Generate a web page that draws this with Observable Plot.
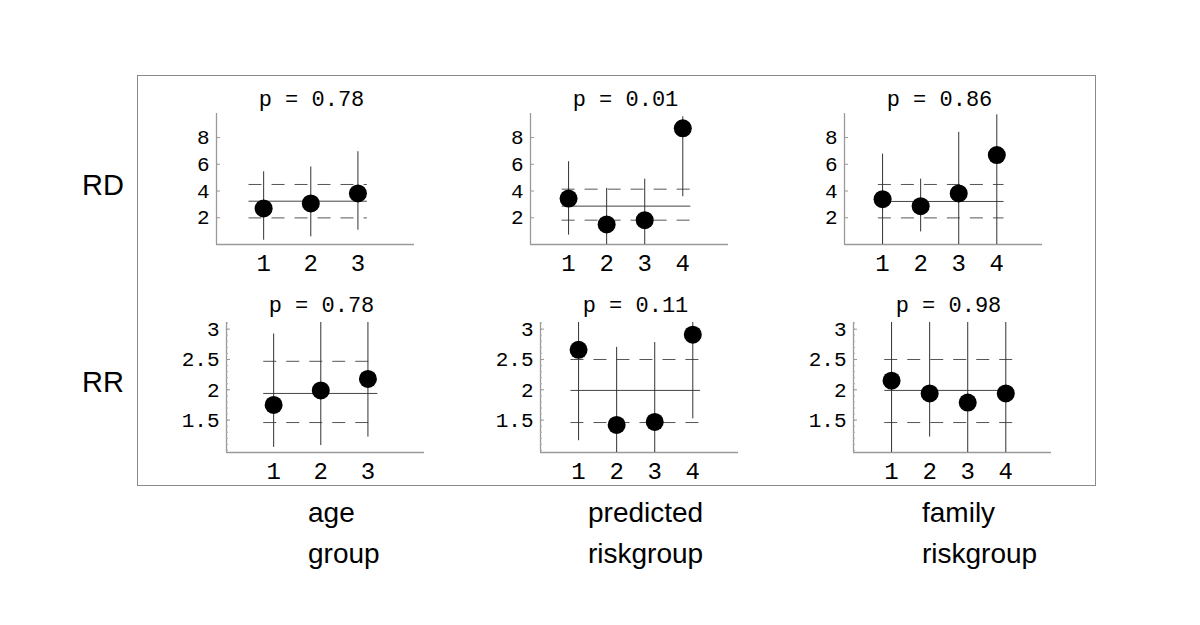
<!DOCTYPE html>
<html><head><meta charset="utf-8">
<script src="https://cdn.jsdelivr.net/npm/d3@7"></script>
<script src="https://cdn.jsdelivr.net/npm/@observablehq/plot@0.6"></script>
<style>
body{margin:0;background:#fff;}
#wrap{position:relative;width:1200px;height:625px;overflow:hidden;background:#fff;}
#box{position:absolute;left:137px;top:75px;width:959px;height:411px;border:1px solid #8a8a8a;box-sizing:border-box;}
.panel{position:absolute;}
#labels{position:absolute;left:0;top:0;}
</style></head>
<body><div id="wrap"><div id="box"></div></div>
<script>
// ---------- data ----------
const rowLabels = ["RD", "RR"];
const colLabels = [["age", "group"], ["predicted", "riskgroup"], ["family", "riskgroup"]];
const pTitles = ["p = 0.78", "p = 0.01", "p = 0.86", "p = 0.78", "p = 0.11", "p = 0.98"];

const rdTicks = [2, 4, 6, 8];
const rrTicks = [1.5, 2, 2.5, 3];
const rrMinor = d3.range(10, 32).map(d => d / 10);
const rdDomain = [0, 9.8];
const rrDomain = [0.966, 3.11];

// RD, age group
const rdAgeEst = [2.70, 3.07, 3.82];
const rdAgeLo  = [0.32, 0.57, 1.07];
const rdAgeHi  = [5.44, 5.80, 6.94];
const rdAgeRef = [3.24, 1.99, 4.49];   // pooled, lower, upper
const rdAgeSpan = [0.69, 3.20];
// RD, predicted riskgroup
const rdPredEst = [3.44, 1.50, 1.82, 8.69];
const rdPredLo  = [0.70, 0.00, 0.00, 3.57];
const rdPredHi  = [6.19, 4.20, 4.89, 9.56];
const rdPredRef = [2.87, 1.82, 4.14];
const rdPredSpan = [0.83, 4.21];
// RD, family riskgroup
const rdFamEst = [3.39, 2.87, 3.82, 6.69];
const rdFamLo  = [0.00, 0.94, 0.00, 0.00];
const rdFamHi  = [6.76, 4.89, 8.39, 9.70];
const rdFamRef = [3.22, 1.99, 4.49];
const rdFamSpan = [0.89, 4.19];
// RR, age group
const rrAgeEst = [1.75, 1.99, 2.18];
const rrAgeLo  = [1.05, 1.08, 1.22];
const rrAgeHi  = [2.92, 3.11, 3.11];
const rrAgeRef = [1.94, 1.46, 2.47];
const rrAgeSpan = [0.79, 3.21];
// RR, predicted riskgroup
const rrPredEst = [2.66, 1.42, 1.47, 2.91];
const rrPredLo  = [1.16, 0.966, 0.966, 1.52];
const rrPredHi  = [3.11, 2.70, 2.78, 3.11];
const rrPredRef = [1.99, 1.46, 2.50];
const rrPredSpan = [0.80, 4.20];
// RR, family riskgroup
const rrFamEst = [2.15, 1.94, 1.79, 1.94];
const rrFamLo  = [0.966, 1.22, 0.966, 0.966];
const rrFamHi  = [3.11, 3.11, 3.11, 3.11];
const rrFamRef = [1.99, 1.46, 2.50];
const rrFamSpan = [0.82, 4.20];

// ---------- layout ----------
const mono = "'Liberation Mono','Courier New',monospace";
const sans = "'Liberation Sans',Arial,sans-serif";
const M = {left: 60, right: 12, top: 44, bottom: 40};
const plotW = 198;
const xPad = 1.2;
const fmt = d => `${d}`;

function panel(cfg) {
  const n = cfg.est.length;
  const groups = d3.range(1, n + 1);
  const rows = groups.map((g, i) => ({g, est: cfg.est[i], lo: cfg.lo[i], hi: cfg.hi[i]}));
  const [y0, y1] = cfg.domain;
  const xMax = n + xPad;
  const marks = [
    Plot.ruleY([y0], {x1: 0, x2: xMax, stroke: "#9a9a9a", strokeWidth: 1.3}),
    Plot.ruleX([0], {y1: y0, y2: y1, stroke: "#9a9a9a", strokeWidth: 1.3}),
  ];
  if (cfg.minor) marks.push(Plot.axisY({ticks: cfg.minor, anchor: "left", tickSize: 2, dx: 2, tickFormat: () => "", stroke: "#aaa"}));
  marks.push(
    Plot.axisY({ticks: cfg.ticks, anchor: "left", tickSize: 4, dx: 4, tickFormat: () => "", stroke: "#999"}),
    Plot.axisY({ticks: cfg.ticks, anchor: "left", tickSize: 0, tickPadding: 7, tickFormat: fmt, label: null, fontFamily: mono, fontSize: 21}),
    Plot.axisX({ticks: groups, anchor: "bottom", tickSize: 0, tickPadding: 9, tickFormat: fmt, label: null, fontFamily: mono, fontSize: 24}),
    Plot.ruleY([cfg.ref[1], cfg.ref[2]], {x1: cfg.span[0], x2: cfg.span[1], stroke: "#555", strokeDasharray: "13,10"}),
    Plot.ruleY([cfg.ref[0]], {x1: cfg.span[0], x2: cfg.span[1], stroke: "#444"}),
    Plot.ruleX(rows, {x: "g", y1: "lo", y2: "hi", stroke: "#333"}),
    Plot.dot(rows, {x: "g", y: "est", r: 9, fill: "#000", stroke: "none"}),
    Plot.text([cfg.title], {frameAnchor: "top", dx: -4, dy: -cfg.titleGap, lineAnchor: "bottom", fontFamily: mono, fontSize: 22})
  );
  const chart = Plot.plot({
    width: M.left + plotW + M.right,
    height: M.top + cfg.h + M.bottom,
    marginLeft: M.left, marginRight: M.right, marginTop: M.top, marginBottom: M.bottom,
    x: {domain: [0, xMax]},
    y: {domain: cfg.domain},
    style: {background: "transparent", overflow: "visible"},
    marks
  });
  const div = document.createElement("div");
  div.className = "panel";
  div.style.left = (cfg.left - M.left) + "px";
  div.style.top = (cfg.top - M.top) + "px";
  div.appendChild(chart);
  document.getElementById("wrap").appendChild(div);
}

const rdRow = {domain: rdDomain, ticks: rdTicks, top: 113.3, h: 131, titleGap: 8};
const rrRow = {domain: rrDomain, ticks: rrTicks, minor: rrMinor, top: 321.7, h: 130, titleGap: 11};

panel({...rdRow, left: 216,   title: pTitles[0], est: rdAgeEst,  lo: rdAgeLo,  hi: rdAgeHi,  ref: rdAgeRef,  span: rdAgeSpan});
panel({...rdRow, left: 530,   title: pTitles[1], est: rdPredEst, lo: rdPredLo, hi: rdPredHi, ref: rdPredRef, span: rdPredSpan});
panel({...rdRow, left: 844.4, title: pTitles[2], est: rdFamEst,  lo: rdFamLo,  hi: rdFamHi,  ref: rdFamRef,  span: rdFamSpan});
panel({...rrRow, left: 225.7, title: pTitles[3], est: rrAgeEst,  lo: rrAgeLo,  hi: rrAgeHi,  ref: rrAgeRef,  span: rrAgeSpan});
panel({...rrRow, left: 539.7, title: pTitles[4], est: rrPredEst, lo: rrPredLo, hi: rrPredHi, ref: rrPredRef, span: rrPredSpan});
panel({...rrRow, left: 853.4, title: pTitles[5], est: rrFamEst,  lo: rrFamLo,  hi: rrFamHi,  ref: rrFamRef,  span: rrFamSpan});

// ---------- row / column labels ----------
const svg = d3.select("#wrap").append("svg").attr("id", "labels").attr("width", 1200).attr("height", 625);
const rowPos = [[82, 195], [82, 392]];
rowLabels.forEach((t, i) => svg.append("text").attr("x", rowPos[i][0]).attr("y", rowPos[i][1])
  .attr("font-family", sans).attr("font-size", 29).text(t));
const colX = [308, 588, 922];
const lineY = [522, 563];
colLabels.forEach((lines, i) => lines.forEach((t, j) => svg.append("text").attr("x", colX[i]).attr("y", lineY[j])
  .attr("font-family", sans).attr("font-size", 28).text(t)));
</script>
</body></html>
